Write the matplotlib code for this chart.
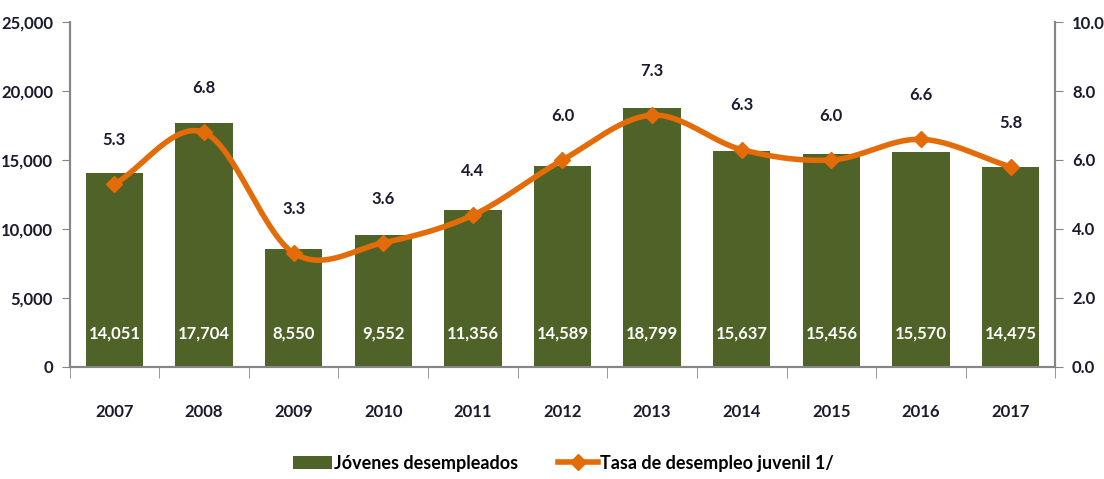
import numpy as np
import matplotlib
matplotlib.use("Agg")
import matplotlib.pyplot as plt
from matplotlib.ticker import FuncFormatter, MultipleLocator

plt.rcParams['font.family'] = ['Lato', 'DejaVu Sans']
plt.rcParams['font.weight'] = 'bold'

years = ['2007', '2008', '2009', '2010', '2011', '2012', '2013', '2014', '2015', '2016', '2017']
jovenes = [14051, 17704, 8550, 9552, 11356, 14589, 18799, 15637, 15456, 15570, 14475]
tasa = [5.3, 6.8, 3.3, 3.6, 4.4, 6.0, 7.3, 6.3, 6.0, 6.6, 5.8]

bar_color = '#4F6228'
line_color = '#E36C09'
axis_color = '#868686'
text_color = '#1a1a2e'


def smooth(x, y, n=20):
    # catmull-rom curve through the points, like excel's smoothed line
    x = np.asarray(x, float); y = np.asarray(y, float)
    px = np.concatenate([[2*x[0]-x[1]], x, [2*x[-1]-x[-2]]])
    py = np.concatenate([[2*y[0]-y[1]], y, [2*y[-1]-y[-2]]])
    xs, ys = [], []
    t = np.linspace(0, 1, n)
    for i in range(1, len(px)-2):
        for arr, out in ((px, xs), (py, ys)):
            p0, p1, p2, p3 = arr[i-1], arr[i], arr[i+1], arr[i+2]
            out.extend(0.5*((2*p1) + (-p0+p2)*t + (2*p0-5*p1+4*p2-p3)*t**2 + (-p0+3*p1-3*p2+p3)*t**3))
    return np.array(xs), np.array(ys)


fig = plt.figure(figsize=(11.04, 4.79), dpi=100)
ax = fig.add_axes([0.063, 0.234, 0.893, 0.72])
ax2 = ax.twinx()

fs = 12
x = np.arange(len(years))
bars = ax.bar(x, jovenes, width=0.64, color=bar_color, label='Jóvenes desempleados', zorder=2)
for xi, v in zip(x, jovenes):
    ax.text(xi, 2450, '{:,}'.format(v), ha='center', va='center', color='white',
            fontsize=fs, fontweight='bold')

ax.set_ylim(0, 25000)
ax.set_xlim(-0.5, len(years)-0.5)
ax.yaxis.set_major_locator(MultipleLocator(5000))
ax.yaxis.set_major_formatter(FuncFormatter(lambda v, p: '{:,.0f}'.format(v)))
ax.set_xticks(x)
ax.set_xticklabels(years)
ax.set_xticks(np.arange(-0.5, len(years)), minor=True)
ax.tick_params(axis='x', which='major', length=0, pad=27, labelsize=fs, colors=text_color)
ax.tick_params(axis='x', which='minor', length=8, color=axis_color, direction='out')
ax.tick_params(axis='y', length=6, color=axis_color, labelsize=fs, labelcolor=text_color, pad=6)

sx, sy = smooth(x, tasa)
ax2.plot(sx, sy, color=line_color, lw=4, zorder=3)
ax2.plot(x, tasa, linestyle='none', marker='D', ms=8, color=line_color, zorder=4)
ax2.plot([], [], color=line_color, lw=4, marker='D', ms=8, label='Tasa de desempleo juvenil 1/')
for xi, v in zip(x, tasa):
    ax2.text(xi, v + 1.05, '{:.1f}'.format(v), ha='center', va='bottom', color=text_color,
             fontsize=fs, fontweight='bold')
ax2.set_ylim(0, 10)
ax2.yaxis.set_major_locator(MultipleLocator(2))
ax2.yaxis.set_major_formatter(FuncFormatter(lambda v, p: '{:.1f}'.format(v)))
ax2.tick_params(axis='y', length=6, color=axis_color, labelsize=fs, labelcolor=text_color, pad=6)

for a in (ax, ax2):
    a.spines['top'].set_visible(False)
    for s in ('left', 'right', 'bottom'):
        a.spines[s].set_color(axis_color)
        a.spines[s].set_linewidth(1.5)

h1, l1 = ax.get_legend_handles_labels()
h2, l2 = ax2.get_legend_handles_labels()
fig.legend(h1 + h2, l1 + l2, loc='center', bbox_to_anchor=(0.51, 0.033), ncol=2,
           frameon=False, fontsize=fs + 1, handlelength=2.2, columnspacing=2.2, handletextpad=0.1)

fig.savefig('out.png', dpi=100)
